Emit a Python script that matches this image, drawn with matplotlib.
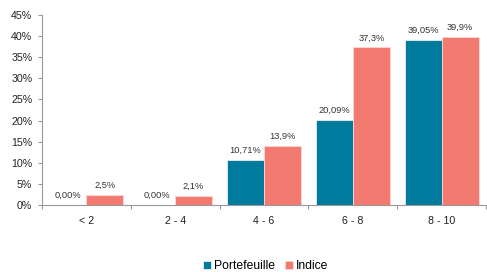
import numpy as np
import matplotlib.pyplot as plt
from matplotlib.ticker import FuncFormatter, FixedLocator

plt.rcParams['font.family'] = ['Liberation Sans', 'DejaVu Sans']

categories = ['< 2', '2 - 4', '4 - 6', '6 - 8', '8 - 10']
portefeuille = [0.00, 0.00, 10.71, 20.09, 39.05]
indice = [2.5, 2.1, 13.9, 37.3, 39.9]
lbl_port = ['0,00%', '0,00%', '10,71%', '20,09%', '39,05%']
lbl_ind = ['2,5%', '2,1%', '13,9%', '37,3%', '39,9%']

c_port = '#007B9E'
c_ind = '#F27A70'

fig = plt.figure(figsize=(4.87, 2.72), dpi=100)
ax = fig.add_axes([0.0862, 0.246, 0.912, 0.699])

x = np.arange(len(categories))
w = 0.415
b1 = ax.bar(x - w / 2, portefeuille, w, color=c_port, edgecolor='#e8f0f3', linewidth=0.6,
            label='Portefeuille')
b2 = ax.bar(x + w / 2, indice, w, color=c_ind, edgecolor='#fbd9d6', linewidth=0.6,
            label='Indice')

# étiquettes de valeur au-dessus des barres
for xi, v, t in zip(x - w / 2, portefeuille, lbl_port):
    ax.text(xi, v + 1.2, t, ha='center', va='bottom', fontsize=6.7, color='#333333')
for xi, v, t in zip(x + w / 2, indice, lbl_ind):
    ax.text(xi, v + 1.2, t, ha='center', va='bottom', fontsize=6.7, color='#333333')

ax.set_xlim(-0.5, len(categories) - 0.5)
ax.set_ylim(0, 45)
ax.set_yticks(np.arange(0, 46, 5))
ax.yaxis.set_major_formatter(FuncFormatter(lambda v, p: f'{int(v)}%'))

ax.xaxis.set_major_locator(FixedLocator(np.arange(-0.5, len(categories), 1)))
ax.xaxis.set_minor_locator(FixedLocator(x))
ax.set_xticklabels([], minor=False)
ax.set_xticklabels(categories, minor=True)
ax.tick_params(axis='x', which='minor', length=0, labelsize=7.7, pad=8, colors='#222222')
ax.tick_params(axis='x', which='major', length=3, direction='out', color='#999999')
ax.tick_params(axis='y', length=3, color='#999999', labelsize=7.7, labelcolor='#222222', pad=4)

for s in ['top', 'right']:
    ax.spines[s].set_visible(False)
for s in ['left', 'bottom']:
    ax.spines[s].set_color('#999999')
    ax.spines[s].set_linewidth(0.8)

fig.legend(handles=[b1, b2], loc='center', bbox_to_anchor=(0.545, 0.022), ncol=2, frameon=False,
           fontsize=8.7, handlelength=0.7, handleheight=0.7, handletextpad=0.2, columnspacing=0.8)

fig.savefig('out.png', dpi=100)
